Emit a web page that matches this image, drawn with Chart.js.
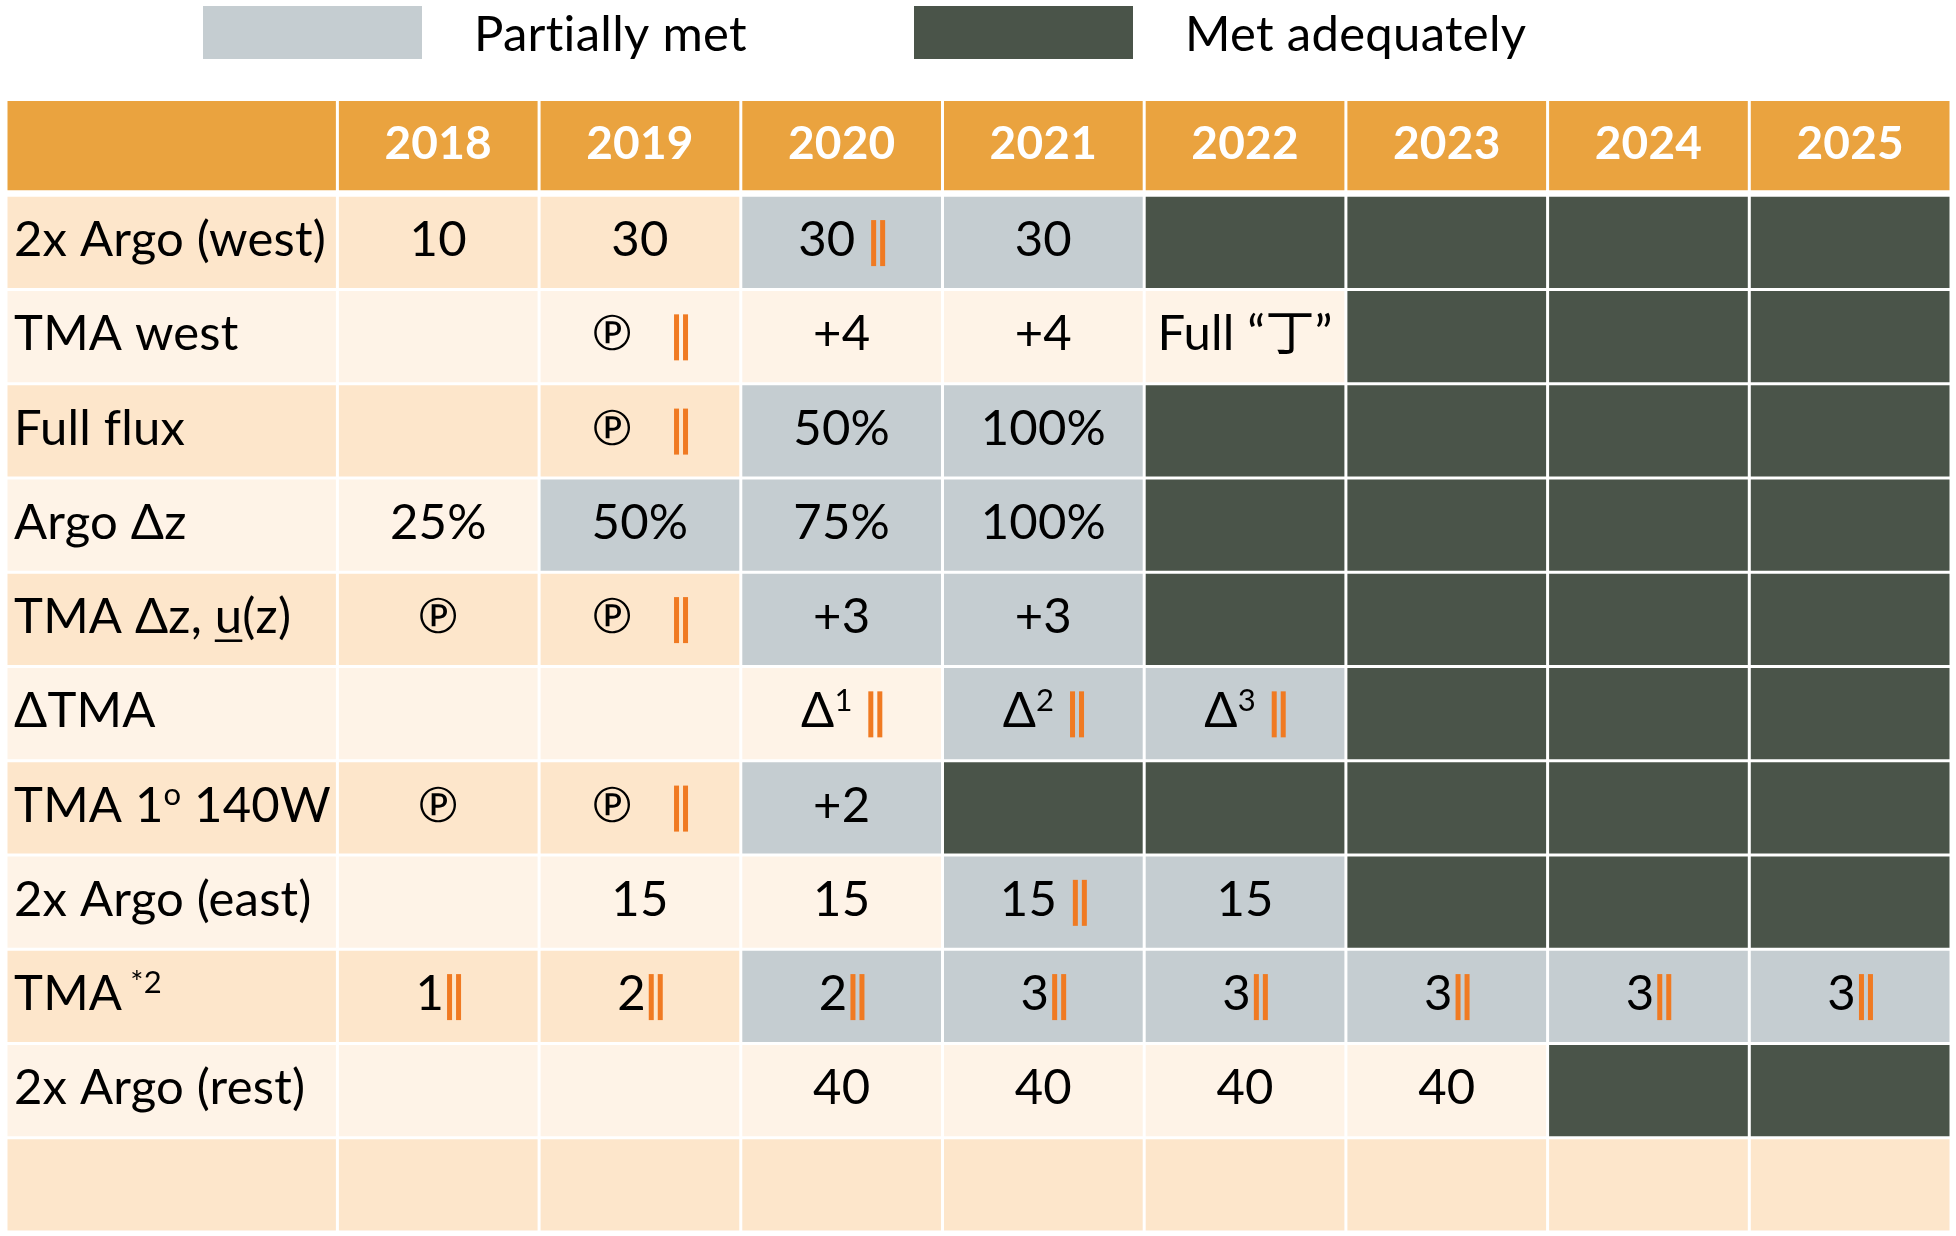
<!DOCTYPE html>
<html>
<head>
<meta charset="utf-8">
<script src="https://cdn.jsdelivr.net/npm/chart.js@4.4.1/dist/chart.umd.min.js"></script>
<style>
  html, body { margin:0; padding:0; background:#fff; }
  #cadre { width:1956px; height:1236px; position:relative; }
</style>
</head>
<body>
<div id="cadre"><canvas id="tableau"></canvas></div>
<script>
/* ================= données du tableau ================= */
const annees = ['2018', '2019', '2020', '2021', '2022', '2023', '2024', '2025'];

/* libellés de ligne : ^{..} exposant, _{..} souligné */
const lignes = ['2x Argo (west)', 'TMA west', 'Full flux', 'Argo Δz', 'TMA Δz, _{u}(z)',
  'ΔTMA', 'TMA 1^{o} 140W', '2x Argo (east)', 'TMA^{ *2}', '2x Argo (rest)', ''];

/* texte des cellules ; || = double barre orange */
const textes = [
  ['10', '30', '30 ||', '30', '', '', '', ''],
  ['', '℗   ||', '+4', '+4', 'Full “丁”', '', '', ''],
  ['', '℗   ||', '50%', '100%', '', '', '', ''],
  ['25%', '50%', '75%', '100%', '', '', '', ''],
  ['℗', '℗   ||', '+3', '+3', '', '', '', ''],
  ['', '', 'Δ^{1} ||', 'Δ^{2} ||', 'Δ^{3} ||', '', '', ''],
  ['℗', '℗   ||', '+2', '', '', '', '', ''],
  ['', '15', '15', '15 ||', '15', '', '', ''],
  ['1||', '2||', '2||', '3||', '3||', '3||', '3||', '3||'],
  ['', '', '40', '40', '40', '40', '', ''],
  ['', '', '', '', '', '', '', ''],
];

/* 0 = rien, 1 = partiellement atteint, 2 = atteint */
const etats = [
  [0, 0, 1, 1, 2, 2, 2, 2],
  [0, 0, 0, 0, 0, 2, 2, 2],
  [0, 0, 1, 1, 2, 2, 2, 2],
  [0, 1, 1, 1, 2, 2, 2, 2],
  [0, 0, 1, 1, 2, 2, 2, 2],
  [0, 0, 0, 1, 1, 2, 2, 2],
  [0, 0, 1, 2, 2, 2, 2, 2],
  [0, 0, 0, 1, 1, 2, 2, 2],
  [0, 0, 1, 1, 1, 1, 1, 1],
  [0, 0, 0, 0, 0, 0, 2, 2],
  [0, 0, 0, 0, 0, 0, 0, 0],
];

const legende = ['Partially met', 'Met adequately'];

/* ================= styles ================= */
const COUL = { entete:'#EAA33F', fonce:'#FDE6CB', clair:'#FEF3E7', partiel:'#C5CDD1', atteint:'#4A5449', barre:'#F07A22' };
const POLICE = 'Lato, "Noto Sans CJK SC", "DejaVu Sans", sans-serif';
const TAILLE = 49;
const LARG_LIB = 1.643;   /* colonne libellés, en largeurs de colonne-année */

const fondLigne = r => r % 2 ? COUL.fonce : COUL.clair;
const cles = ['entete', ...lignes];

/* une barre flottante par cellule */
const cellules = [{ x:[-LARG_LIB, 0], y:cles[0], c:COUL.entete, hdr:true }];
annees.forEach((a, i) => cellules.push({ x:[i, i + 1], y:cles[0], c:COUL.entete, hdr:true }));
lignes.forEach((lib, k) => {
  const r = k + 1;
  cellules.push({ x:[-LARG_LIB, 0], y:cles[r], c:fondLigne(r) });
  etats[k].forEach((e, i) => cellules.push({ x:[i, i + 1], y:cles[r], c:[fondLigne(r), COUL.partiel, COUL.atteint][e] }));
});

/* ---- texte enrichi : exposants, soulignés, doubles barres ---- */
function morceaux(s){
  return s.split(/(\^\{[^}]*\}|_\{[^}]*\}|\|\|)/).filter(Boolean).map(p => {
    if(p === '||') return { k:'barres' };
    if(p.startsWith('^{')) return { k:'sup', t:p.slice(2, -1) };
    if(p.startsWith('_{')) return { k:'sous', t:p.slice(2, -1) };
    return { k:'txt', t:p };
  });
}

function ecrire(ctx, s, x0, yc, o = {}){
  const g = o.gras ? 'bold ' : '';
  const taille = o.taille || TAILLE;
  const f = g + taille + 'px ' + POLICE;
  const fs = g + Math.round(taille * .64) + 'px ' + POLICE;
  const ms = morceaux(s);
  const larg = m => {
    if(m.k === 'barres') return 17;
    ctx.font = m.k === 'sup' ? fs : f;
    return ctx.measureText(m.t).width;
  };
  const total = ms.reduce((a, m) => a + larg(m), 0);
  let xx = o.gauche ? x0 : x0 - total / 2;
  const base = yc + taille * (o.dy != null ? o.dy : .28);
  ms.forEach(m => {
    const w = larg(m);
    if(m.k === 'barres'){
      ctx.fillStyle = COUL.barre;
      ctx.fillRect(xx + 3, base - 36, 5, 46);
      ctx.fillRect(xx + 12, base - 36, 5, 46);
    } else {
      ctx.font = m.k === 'sup' ? fs : f;
      ctx.fillStyle = o.coul || '#000';
      ctx.fillText(m.t, xx, m.k === 'sup' ? base - taille * .34 : base);
      if(m.k === 'sous') ctx.fillRect(xx, base + taille * .13, w, 2.5);
    }
    xx += w;
  });
}

const pluginTextes = {
  id:'textes',
  afterDatasetsDraw(chart){
    const { ctx, scales:{ x, y } } = chart;
    ctx.save();
    ctx.textBaseline = 'alphabetic';
    ctx.letterSpacing = '0.2px';   /* évite la ligature « ti » de Lato */
    annees.forEach((a, i) => ecrire(ctx, a, x.getPixelForValue(i + .5), y.getPixelForValue(0),
      { gras:true, coul:'#fff', taille:46, dy:.24 }));
    lignes.forEach((lib, k) => {
      const yc = y.getPixelForValue(k + 1);
      if(lib) ecrire(ctx, lib, x.getPixelForValue(-LARG_LIB) + 8, yc, { gauche:true });
      textes[k].forEach((t, i) => { if(t) ecrire(ctx, t, x.getPixelForValue(i + .5), yc); });
    });
    ctx.restore();
  }
};

/* légende placée à la main, au-dessus du tableau */
const pluginLegende = {
  id:'legendeMain',
  afterDraw(chart){
    const ctx = chart.ctx;
    ctx.save();
    ctx.font = '49px ' + POLICE;
    ctx.letterSpacing = '0.3px';
    ctx.textBaseline = 'alphabetic';
    legende.forEach((l, i) => {
      const x0 = 203 + i * 711;
      ctx.fillStyle = [COUL.partiel, COUL.atteint][i];
      ctx.fillRect(x0, 6, 219, 53);
      ctx.fillStyle = '#000';
      ctx.fillText(l, x0 + 271, 51);
    });
    ctx.restore();
  }
};

new Chart(document.getElementById('tableau'), {
  type:'bar',
  data:{ labels:cles, datasets:[{
    data:cellules,
    backgroundColor: c => c.raw ? c.raw.c : '#fff',
    borderColor:'#fff',
    borderWidth: c => (c.raw && c.raw.hdr) ? { top:0, left:1.5, right:1.5, bottom:5 } : 1.5,
    borderSkipped:false,
    inflateAmount:0,
    barPercentage:1,
    categoryPercentage:1,
  }]},
  options:{
    indexAxis:'y',
    responsive:true,
    maintainAspectRatio:false,
    animation:false,
    events:[],
    layout:{ padding:{ left:6, right:5, top:101, bottom:4 } },
    scales:{
      x:{ type:'linear', min:-LARG_LIB, max:annees.length, display:false },
      y:{ display:false, offset:true },
    },
    plugins:{ legend:{ display:false }, tooltip:{ enabled:false } },
  },
  plugins:[pluginTextes, pluginLegende],
});
</script>
</body>
</html>
